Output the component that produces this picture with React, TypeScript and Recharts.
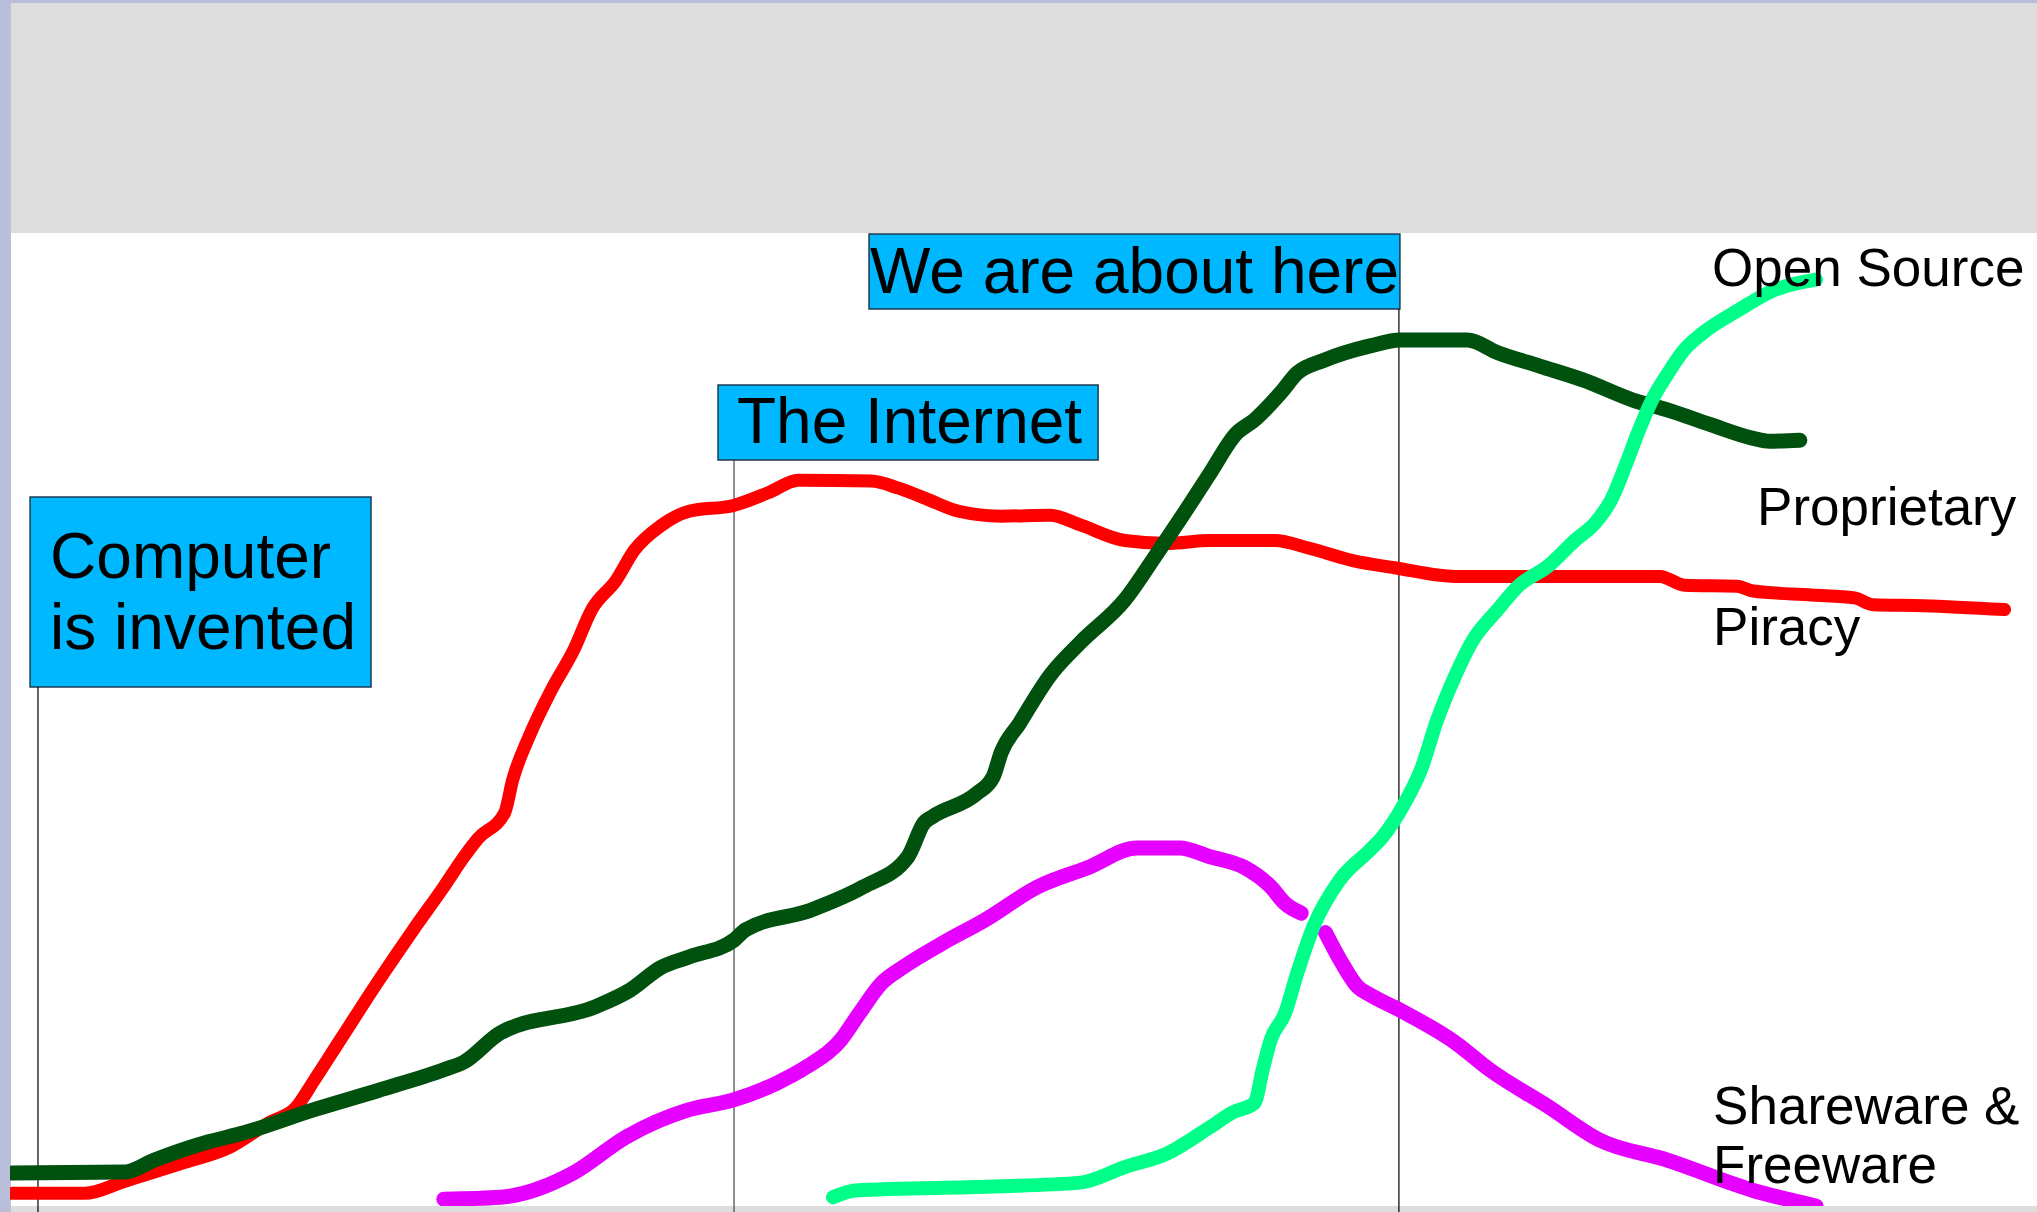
import React from 'react';
import { LineChart, Line, XAxis, YAxis, ReferenceArea, ReferenceLine, ReferenceDot } from 'recharts';

// ---------- data (time 0..100, share 0..100) ----------
const piracy: [number, number][] = [
  [0.1, 1.3], [3.7, 1.3], [5.6, 2.5], [8.5, 4.4], [10.9, 6.1], [12.8, 8.6], [14.1, 10.1], [15.0, 12.9],
  [16.3, 17.1], [18.2, 23.2], [19.9, 28.4], [21.4, 32.8], [22.4, 35.9], [23.1, 37.8], [24.4, 40.4],
  [24.8, 43.8], [25.6, 48.2], [26.7, 53.0], [27.8, 57.1], [28.7, 61.3], [29.9, 64.3], [30.8, 67.4],
  [32.1, 69.9], [33.5, 71.4], [35.7, 72.0], [37.4, 73.3], [38.9, 74.6], [42.5, 74.5], [43.8, 73.8],
  [45.3, 72.6], [46.8, 71.4], [48.9, 70.9], [51.3, 71.0], [52.8, 70.0], [55.0, 68.4], [57.1, 68.1],
  [59.2, 68.4], [62.4, 68.4], [64.1, 67.6], [66.3, 66.3], [68.3, 65.6], [71.3, 64.7], [81.4, 64.7],
  [82.6, 63.8], [85.2, 63.7], [86.0, 63.2], [88.9, 62.8], [91.0, 62.5], [91.9, 61.8], [94.4, 61.7],
  [98.4, 61.3],
];

const proprietary: [number, number][] = [
  [0.1, 3.4], [5.7, 3.5], [7.1, 4.7], [9.8, 6.6], [11.5, 7.5], [15.0, 9.9], [18.2, 11.9], [21.4, 14.0],
  [22.4, 14.8], [24.2, 17.8], [28.9, 20.5], [30.6, 22.2], [32.1, 24.5], [33.5, 25.6], [35.7, 27.3],
  [36.3, 28.4], [39.5, 30.4], [42.1, 32.8], [44.3, 35.9], [45.1, 39.4], [45.5, 40.0], [47.7, 42.4],
  [48.5, 44.1], [48.9, 46.6], [49.8, 49.6], [51.3, 54.5], [52.8, 57.9], [55.0, 62.3], [56.6, 67.1],
  [57.7, 70.5], [59.2, 75.3], [60.5, 79.4], [61.4, 80.8], [62.7, 83.6], [63.5, 85.6], [64.8, 86.9],
  [67.1, 88.4], [68.6, 89.0], [71.9, 89.0], [73.4, 87.7], [75.5, 86.3], [77.6, 84.9], [80.1, 82.8],
  [81.8, 81.8], [83.9, 80.3], [86.0, 78.9], [86.8, 78.6], [88.3, 78.7],
];

const shareware: [number, number | null][] = [
  [21.4, 0.7], [24.2, 0.9], [27.8, 3.4], [30.4, 7.1], [33.5, 9.9], [35.7, 10.9], [37.8, 12.6],
  [39.3, 14.3], [41.0, 17.1], [41.9, 19.8], [43.0, 22.9], [44.1, 24.6], [46.0, 27.0], [48.1, 29.4],
  [50.7, 32.8], [53.2, 34.8], [55.6, 36.8], [57.7, 36.8], [59.2, 35.9], [60.9, 34.8], [62.2, 32.8],
  [62.9, 31.1], [63.7, 30.1], [64.3, null], [64.9, 28.1], [65.7, 25.0], [66.5, 22.5], [67.1, 21.7],
  [68.6, 20.1], [71.3, 16.8], [73.0, 14.0], [75.9, 10.2], [78.4, 6.8], [81.8, 4.7], [86.0, 1.6],
  [89.1, 0.0],
];

const openSource: [number, number][] = [
  [40.6, 0.9], [41.7, 1.6], [48.5, 2.0], [52.8, 2.4], [55.0, 4.0], [57.1, 5.4], [59.2, 8.1],
  [60.3, 9.6], [61.4, 10.6], [61.8, 14.0], [62.2, 17.1], [62.9, 19.8], [63.5, 23.9], [64.3, 28.7],
  [65.6, 33.5], [67.1, 36.6], [67.7, 37.9], [68.8, 41.4], [69.6, 44.8], [70.4, 49.9], [71.3, 54.5],
  [72.1, 57.9], [73.4, 61.3], [74.4, 63.7], [75.9, 65.8], [77.2, 68.4], [78.2, 70.2], [79.0, 72.6],
  [79.7, 76.1], [80.3, 79.4], [81.0, 82.8], [81.8, 85.6], [82.6, 88.0], [83.5, 89.7], [85.3, 92.1],
  [87.0, 94.1], [89.1, 95.2],
];

const milestoneNames = ['Computer|is invented', 'The Internet', 'We are about here'];
const milestoneTimes = [1.38, 35.72, 68.52];
const seriesNames = ['Open Source', 'Proprietary', 'Piracy', 'Shareware &|Freeware'];

// ---------- layout ----------
const W = 2037;
const H = 1212;
const FONT = '"Liberation Sans", Arial, Helvetica, sans-serif';

const boxLayout = [
  { x1: 0.99, x2: 17.81, yTop: 72.87, yBottom: 53.34, dx: 20, dy: 81, gap: 71 },
  { x1: 34.93, x2: 53.68, yTop: 84.38, yBottom: 76.67, dx: 19, dy: 58, gap: 71 },
  { x1: 42.38, x2: 68.57, yTop: 99.9, yBottom: 92.19, dx: 1, dy: 59, gap: 71 },
];
const seriesLabelLayout = [
  { x: 83.97, y: 94.55 },
  { x: 86.19, y: 69.99 },
  { x: 84.02, y: 57.66 },
  { x: 84.02, y: 8.43 },
];

const toPts = (arr: [number, number | null][]) => arr.map(([t, v]) => ({ t, v }));

function textLabel(lines: string[], dx: number, dy: number, gap: number, fontSize: number) {
  return (props: any) => {
    const vb = props.viewBox || {};
    const x = (vb.x ?? 0) + dx;
    const y = (vb.y ?? 0) + dy;
    return (
      <text x={x} y={y} fontFamily={FONT} fontSize={fontSize} fill="#000000">
        {lines.map((l, i) => (
          <tspan key={i} x={x} y={y + i * gap}>
            {l}
          </tspan>
        ))}
      </text>
    );
  };
}

const lineCommon = {
  dataKey: 'v',
  type: 'monotone' as const,
  strokeLinecap: 'round' as const,
  strokeLinejoin: 'round' as const,
  dot: false,
  activeDot: false,
  isAnimationActive: false,
};

export default function App() {
  return (
    <div style={{ position: 'absolute', left: 0, top: 0, width: W, height: H, background: '#b9bedb', overflow: 'hidden' }}>
      <div style={{ position: 'absolute', left: 10, top: 3, width: W - 10, height: 230, background: '#dddddd' }} />
      <div style={{ position: 'absolute', left: 10, top: 233, width: W - 10, height: 973, background: '#ffffff' }} />
      <div style={{ position: 'absolute', left: 10, top: 1206, width: W - 10, height: 6, background: '#dddddd' }} />
      <div style={{ position: 'absolute', left: 10, top: 3, width: 1, height: H - 3, background: '#c4c4c4' }} />
      <div style={{ position: 'absolute', left: 0, top: 0 }}>
        <LineChart width={W} height={H} margin={{ top: 233, right: 0, bottom: 6, left: 10 }}>
          <XAxis type="number" dataKey="t" domain={[0, 100]} hide allowDataOverflow />
          <YAxis type="number" dataKey="v" domain={[0, 100]} hide allowDataOverflow />

          {milestoneTimes.map((t, i) => (
            <ReferenceLine
              key={'ml' + i}
              segment={[{ x: t, y: boxLayout[i].yBottom }, { x: t, y: -0.62 }]}
              stroke={i === 1 ? '#444444' : '#000000'}
              strokeWidth={1.2}
              ifOverflow="visible"
            />
          ))}

          {milestoneNames.map((name, i) => {
            const b = boxLayout[i];
            return (
              <ReferenceArea
                key={'mb' + i}
                x1={b.x1}
                x2={b.x2}
                y1={b.yBottom}
                y2={b.yTop}
                fill="#00b8ff"
                fillOpacity={1}
                stroke="#1d3a4c"
                strokeWidth={1.5}
                ifOverflow="visible"
                label={textLabel(name.split('|'), b.dx, b.dy, b.gap, 64)}
              />
            );
          })}

          <Line {...lineCommon} data={toPts(piracy)} stroke="#ff0000" strokeWidth={13} />
          <Line {...lineCommon} data={toPts(proprietary)} stroke="#00500e" strokeWidth={15} />
          <Line {...lineCommon} data={toPts(shareware)} stroke="#e600ff" strokeWidth={15} connectNulls={false} />
          <Line {...lineCommon} data={toPts(openSource)} stroke="#00ff88" strokeWidth={14} />

          {seriesNames.map((name, i) => (
            <ReferenceDot
              key={'sl' + i}
              x={seriesLabelLayout[i].x}
              y={seriesLabelLayout[i].y}
              r={0}
              fill="none"
              stroke="none"
              ifOverflow="visible"
              label={textLabel(name.split('|'), 0, 0, 59, 53)}
            />
          ))}
        </LineChart>
      </div>
    </div>
  );
}
